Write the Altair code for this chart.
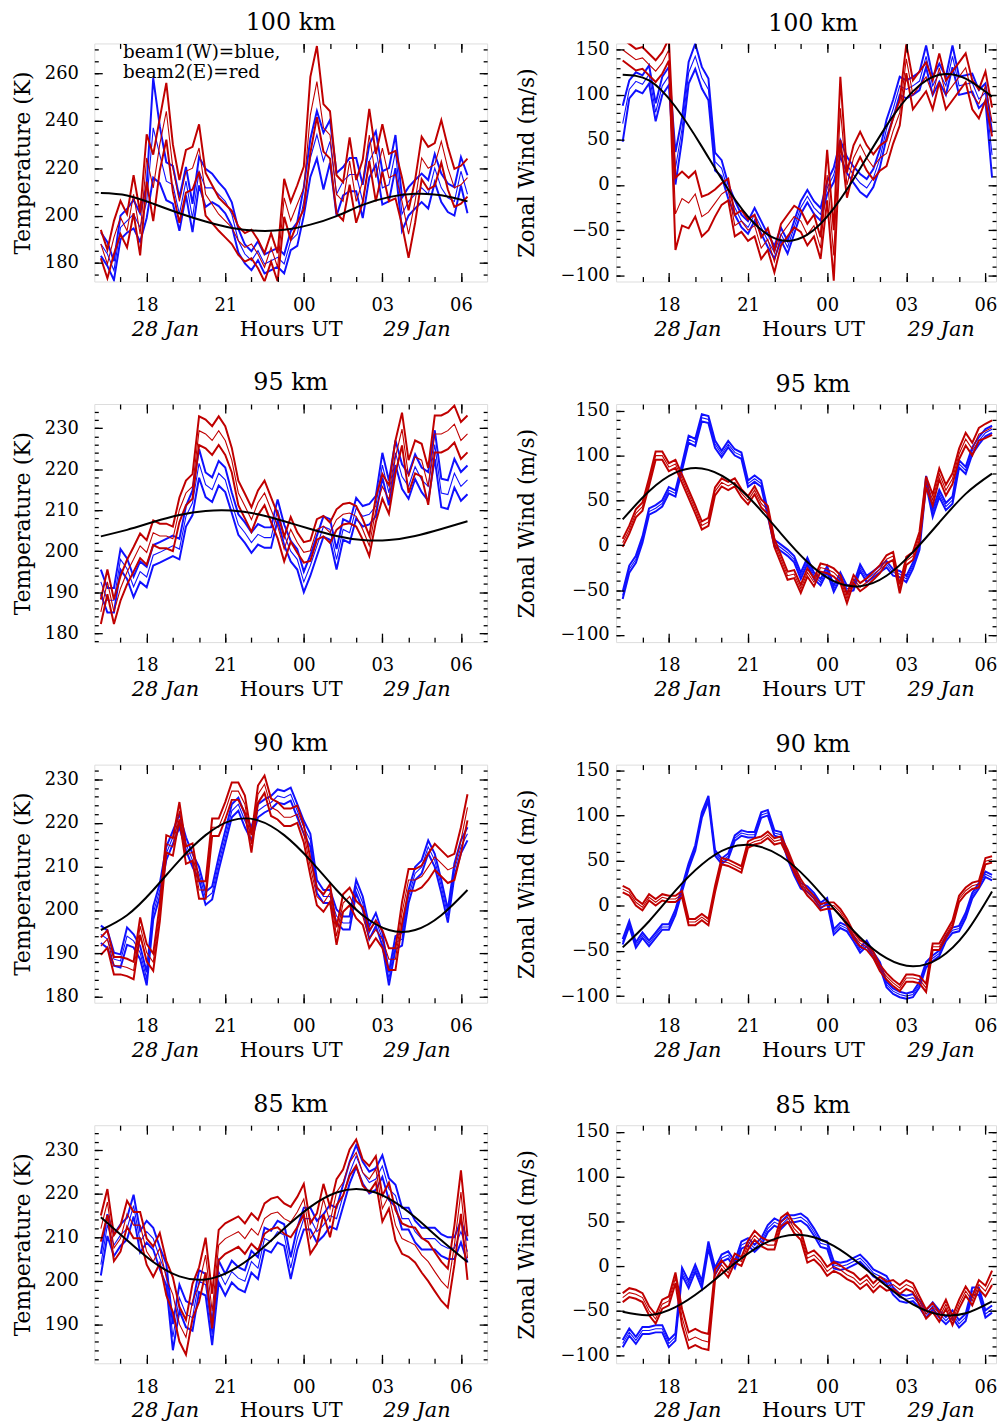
import altair as alt
import pandas as pd

FONT = "DejaVu Serif"
BLUE = "#1010FF"
RED = "#C00000"

# time grid (hours UT counted from 00 UT 28 Jan; 24 = 00 UT 29 Jan)
T_START = 16.25
T_STEP = 0.25
FIT_START = 16.25
FIT_STEP = 1.0

X_DOMAIN_LEFT = [16, 31]
X_DOMAIN_RIGHT = [16, 30.4]
X_MAJOR = [18, 21, 24, 27, 30]
X_LABELS = ["18", "21", "00", "03", "06"]
X_MINOR = list(range(17, 31))
# top-edge ticks of the first panel (the legend box hides those behind it)
X_MAJOR_TOP_LEGEND = [24, 27, 30]
X_MINOR_TOP_LEGEND = [17] + list(range(24, 31))
DATE_POS = [18.7, 28.3]
DATE_LABELS = ["28 Jan", "29 Jan"]
X_TITLE = "Hours UT"
LEGEND = ["beam1(W)=blue,", "beam2(E)=red"]
TITLES = ["100 km", "95 km", "90 km", "85 km"]
T_TITLE = "Temperature (K)"
W_TITLE = "Zonal Wind (m/s)"

# ---------------- 100 km temperature ----------------
t100_blue = [188, 183.8, 176.8, 195, 197.8, 200.6, 195, 206, 237, 225.7,
             214.5, 213, 200.6, 214.5, 199, 218.7, 211.7, 211.7, 209, 206,
             200.6, 189.4, 183.8, 181, 185.2, 179.6, 181, 182.4, 179.6, 189.4,
             192.2, 206, 224.3, 234.1, 223, 231.3, 209, 214.5, 217.3, 217.3,
             206, 223, 228.5, 211.7, 213, 227, 200.6, 206, 209, 211.7,
             209, 220, 211.7, 207.5, 206, 218.7, 209]
t100_blue_err = [5, 5, 4, 5, 5, 6, 6, 7, 21, 12,
                 8, 8, 7, 6, 6, 6, 8, 6, 5, 5,
                 5, 5, 4, 4, 4, 4, 4, 4, 4, 4,
                 5, 6, 8, 10, 12, 9, 9, 6, 7, 7,
                 7, 7, 7, 7, 7, 7, 7, 6, 6, 6,
                 6, 6, 6, 6, 6, 6, 8]
t100_red = [188, 179.6, 190.8, 199.2, 193.6, 209, 192.2, 224.3, 211.7, 230,
            244, 220, 206, 218.7, 220, 228.5, 209, 204.8, 200.6, 197.8,
            195, 189.4, 186.6, 188, 183.8, 178.2, 186.6, 178.2, 207.5, 197.8,
            204.8, 211.7, 242.5, 256.5, 237, 234, 209, 206, 223, 206,
            214.5, 234, 216, 228.5, 216, 217.3, 206, 192.2, 206, 224.3,
            220, 221.6, 231.3, 220, 211.7, 213, 216]
t100_red_err = [6, 6, 7, 7, 7, 8, 9, 10, 14, 11,
                12, 10, 9, 9, 9, 10, 9, 8, 7, 7,
                7, 6, 6, 6, 6, 6, 6, 6, 8, 8,
                8, 9, 16, 15, 10, 10, 8, 8, 10, 9,
                9, 11, 10, 10, 10, 10, 10, 10, 9, 9,
                9, 9, 9, 9, 8, 8, 8]
t100_fit = [209.5, 208.5, 205.0, 201.0, 197.5, 194.8, 193.6, 194.0, 196.2, 199.8,
            204.5, 207.8, 209.2, 208.6, 206.0]

# ---------------- 100 km zonal wind ----------------
w100_blue = [68, 106, 115, 111.7, 122.6, 80.7, 110, 121, 18.6, 62.4,
             124.5, 142.7, 119, 106, 26, 18.6, -7, -25, -39.8, -47,
             -32.5, -47, -61.7, -74.5, -54.4, -69, -47, -25, -12.4, -25,
             -32.5, -3.3, 11.3, 40.5, 22.3, 11.3, 2.2, -3.3, 7.7, 29.6,
             62.4, 84.3, 110, 106, 110, 115.3, 142.7, 110, 124.5, 110,
             142.7, 110, 111.7, 113.5, 95.3, 102.6, 33.2]
w100_blue_err = [20, 10, 10, 10, 10, 10, 10, 10, 18, 12,
                 12, 14, 12, 12, 10, 9, 8, 8, 7, 7,
                 7, 7, 7, 7, 7, 7, 7, 7, 7, 7,
                 7, 7, 8, 9, 9, 9, 10, 10, 10, 10,
                 10, 10, 10, 10, 10, 10, 12, 10, 10, 10,
                 12, 10, 10, 10, 10, 10, 25]
w100_red = [150, 144.5, 139, 140.9, 133.6, 126.3, 135.4, 150, -32, -15,
            -20, -10, -35, -30, -20, -10, -5, -45, -40, -50,
            -45, -70, -60, -85, -55, -45, -35, -40, -55, -45,
            -70, 11, -78, 85, 0, 30, 45, 30, 20, 30,
            35, 60, 80, 140, 100, 110, 120, 100, 130, 100,
            110, 120, 130, 100, 90, 110, 70]
w100_red_err = [12, 12, 12, 12, 12, 12, 12, 12, 40, 30,
                28, 25, 22, 20, 15, 12, 12, 12, 12, 12,
                12, 12, 12, 12, 12, 12, 12, 12, 12, 12,
                12, 28, 28, 35, 14, 14, 14, 14, 14, 14,
                14, 14, 14, 16, 16, 16, 16, 16, 16, 16,
                16, 16, 16, 16, 16, 16, 16]
w100_fit = [122.2, 116.0, 86.8, 42.6, -4.9, -42.9, -61.2, -55.0, -25.8, 18.4,
            65.9, 103.9, 122.2, 118.0, 98.0]

# ---------------- 95 km temperature ----------------
t95_blue = [192.5, 188, 188, 198, 195.7, 191.3, 195, 193.7, 199, 199.7,
            200.5, 201.3, 200.5, 208.5, 211.8, 221.4, 216.2, 215, 219, 217.4,
            211.8, 206.5, 204.5, 202.1, 204.1, 203.3, 203.3, 210.1, 204, 200,
            198, 192.5, 196.5, 201.3, 206, 205.3, 198, 205.3, 204.5, 210.5,
            208.5, 209, 211, 221, 214.2, 224, 218.2, 215.8, 220.6, 217.4,
            215.8, 226, 214.2, 213.8, 219, 215.8, 217.4]
t95_blue_err = [3, 3, 3, 2.5, 2.5, 2.5, 2.5, 2.5, 2.5, 2.5,
                2.5, 2.5, 2.5, 2.5, 3, 3.5, 3, 3, 3, 3,
                2.5, 2.5, 2.5, 2.5, 2.5, 2.5, 2.5, 2.5, 2.5, 2.5,
                2.5, 2.5, 2.5, 2.5, 2.5, 2.5, 2.5, 2.5, 2.5, 2.5,
                2.5, 2.5, 2.5, 3, 3, 3, 3, 3, 3, 3,
                3.5, 3.5, 3.5, 3.5, 3.5, 3.5, 3.5]
t95_red = [185.2, 192.5, 185.2, 190.9, 194.9, 198, 201.3, 199.7, 204.5, 203.7,
           203.7, 203, 210.1, 214.2, 215.8, 229.4, 228.6, 227, 229.4, 227,
           222.2, 214.2, 211, 207.7, 211.8, 214.2, 210.1, 206.1, 200.5, 205.3,
           202.1, 199.7, 200.1, 205.3, 206.1, 204.5, 207.7, 209, 209.3, 208.5,
           205.3, 201.3, 210.1, 215.8, 212.6, 223, 229.8, 218.2, 223, 222.2,
           215.8, 228.6, 228.6, 229.4, 231, 227, 228.6]
t95_red_err = [3, 3, 3, 3, 3, 3, 3, 3, 3, 3,
               3, 3, 3, 3, 3, 3.5, 3.5, 3.5, 3.5, 3.5,
               3, 3, 3, 3, 3, 3, 3, 3, 3, 3,
               2.5, 2.5, 2.5, 2.5, 2.5, 2.5, 2.5, 2.5, 2.5, 2.5,
               2.5, 2.5, 3, 3, 3.5, 4, 4, 4, 4, 4,
               4.5, 4.5, 4.5, 4.5, 4.5, 4.5, 4.5]
t95_fit = [203.6, 205.2, 207.1, 208.8, 209.8, 209.9, 209.0, 207.3, 205.4, 203.7,
           202.7, 202.7, 203.7, 205.4, 207.3]

# ---------------- 95 km zonal wind ----------------
w95_blue = [-56, -26.7, -15.7, 6.3, 37.5, 41.1, 46.6, 61.3, 57.6, 87,
            118.1, 114.4, 142, 140, 112.6, 101.6, 112.6, 103.4, 99.8, 68.6,
            74.1, 68.6, 35.6, 2.6, -2.9, -8.4, -15.7, -34, -17.5, -34,
            -41.3, -26.7, -48.7, -34, -48.7, -46.8, -24.9, -37.7, -32.2, -26.7,
            -21.2, -30.4, -32.2, -37.7, -23, -1, 72.3, 35.6, 57.6, 43,
            50.3, 90.6, 83.3, 105.3, 116.3, 125.4, 129.1]
w95_blue_err = [4, 4, 4, 3.5, 3.5, 3.5, 3.5, 3.5, 3.5, 3.5,
                4, 4, 4, 4, 4, 3.5, 3.5, 3.5, 3.5, 3.5,
                3.5, 3.5, 3.5, 3.5, 3.5, 3.5, 3.5, 3.5, 3.5, 3.5,
                3.5, 3.5, 3.5, 3.5, 3.5, 3.5, 3.5, 3.5, 3.5, 3.5,
                3.5, 3.5, 3.5, 3.5, 3.5, 4, 5, 4, 4, 4,
                4, 4, 4, 4, 4, 4, 4]
w95_red = [2.6, 17.3, 35.6, 43, 70.5, 99.8, 99.8, 87, 90.6, 74,
           57, 40, 22, 26, 60, 70, 66, 70, 58, 50,
           61.3, 46.6, 39.3, 2.6, -15.7, -34, -32.2, -48.7, -30.4, -41.3,
           -24.9, -26.7, -30.4, -37.7, -59.7, -37.7, -46.8, -41.3, -34, -26.7,
           -15.7, -12, -48.7, -17.5, -12, 10, 70.5, 50.3, 79.6, 61.3,
           74.1, 101.6, 118.1, 107.1, 123.6, 127.3, 131]
w95_red_err = [4.5, 4.5, 4.5, 4.5, 4.5, 4.5, 4.5, 4.5, 4.5, 4.5,
               4.5, 4.5, 4.5, 4.5, 4.5, 4.5, 4.5, 4.5, 4.5, 4.5,
               4.5, 4.5, 4.5, 4.5, 4.5, 4.5, 4.5, 4.5, 4.5, 4.5,
               4.5, 4.5, 4.5, 4.5, 5, 4.5, 4.5, 4.5, 4.5, 4.5,
               4.5, 4.5, 5, 4.5, 4.5, 5, 6, 6, 6, 6,
               6, 6, 7, 7, 7, 8, 8]
w95_fit = [28.7, 60.1, 80.8, 85.5, 73.0, 46.5, 13.0, -18.7, -40.1, -45.7,
           -34.1, -7.7, 25.3, 57.2, 79.7]

# ---------------- 90 km temperature ----------------
t90_blue = [194.4, 193.3, 188.7, 188.3, 194, 192.9, 190.2, 184.2, 199.3, 204.6,
            213, 216.7, 220.5, 215.2, 211.4, 208.4, 202.7, 203.9, 210.7, 216.7,
            222.8, 224.3, 220.5, 217.5, 222.8, 223.9, 224.7, 226.2, 225.8, 226.6,
            222.8, 219, 216, 205.4, 203.1, 203.1, 198.6, 197, 197, 205.4,
            201.6, 194.8, 197.8, 193.3, 184.2, 192.5, 193.3, 203.1, 208.4, 209.9,
            214.5, 211.4, 205.4, 198.6, 209.2, 214.5, 217.5]
t90_blue_err = [2, 2, 1.5, 1.5, 2, 1.5, 1.5, 1.5, 1.5, 1.5,
                1.5, 1.5, 1.5, 1.5, 1.5, 1.5, 1.5, 1.5, 1.5, 1.5,
                1.5, 1.5, 1.5, 1.5, 1.5, 1.5, 1.5, 1.5, 1.5, 1.5,
                1.5, 1.5, 1.5, 1.5, 1.5, 1.5, 1.5, 1.5, 1.5, 1.5,
                1.5, 1.5, 1.5, 1.5, 1.5, 1.5, 1.5, 1.5, 1.5, 1.5,
                1.5, 1.5, 1.5, 1.5, 1.5, 1.5, 1.5]
t90_red = [191.7, 193.3, 187.2, 187.2, 186.8, 186.1, 196.3, 190.2, 188, 199.3,
           215.2, 214.5, 222.8, 212.6, 213.3, 204.6, 204.6, 219, 219, 222.8,
           227.3, 227.3, 224.3, 215.2, 226.6, 228.9, 223.6, 222.8, 221.3, 221.3,
           222, 217.5, 209.9, 203.1, 201.6, 203.9, 194, 201.6, 203.1, 200.1,
           198.6, 193.3, 195.5, 193.3, 188.7, 188.7, 199.3, 206.9, 206.9, 207.7,
           209.9, 212.2, 210.7, 209.2, 209.9, 216, 223.6]
t90_red_err = [2, 2, 2, 2, 2, 2, 2, 2, 2, 2,
               2, 2, 2, 2, 2, 2, 2, 2, 2, 2,
               2, 2, 2, 2, 2, 2, 2, 2, 2, 2,
               2, 2, 2, 2, 2, 2, 2, 2, 2, 2,
               2, 2, 2, 2, 2.5, 2.5, 2.5, 2.5, 2.5, 2.5,
               3, 3, 3, 3, 3, 3, 3]
t90_fit = [195.4, 198.8, 204.6, 211.4, 217.2, 220.6, 220.6, 217.2, 211.4, 204.6,
           198.8, 195.4, 195.4, 198.8, 204.6]

# ---------------- 90 km zonal wind ----------------
w90_blue = [-39.8, -19.7, -43.4, -32.5, -41.6, -32.5, -23.4, -23.4, -6.9, 18.6,
            44.2, 64.2, 100.7, 119, 58.8, 49.6, 55.1, 75.2, 80.7, 78.8,
            78.8, 100.7, 103.3, 80.7, 78.8, 55.1, 36.9, 22.3, 18.6, 11.3,
            0.4, 5.8, -28.8, -21.5, -25.2, -36.1, -48.9, -41.6, -54.4, -65.3,
            -87.2, -94.5, -98.2, -100, -98.2, -87.2, -65.3, -58, -52.6, -36.1,
            -27, -25.2, -10.6, 11.3, 22.3, 35, 31.4]
w90_blue_err = [3, 3, 3, 3, 3, 3, 3, 3, 3, 3,
                3, 3, 3, 3, 3, 3, 3, 3, 3, 3,
                3, 3, 3, 3, 3, 3, 3, 3, 3, 3,
                3, 3, 3, 3, 3, 3, 3, 3, 3, 3,
                3, 3, 3, 3, 3, 3, 3, 3, 3, 3,
                3, 3, 3, 3, 3, 3, 3]
w90_red = [18.6, 15, 4, -1.5, 9.5, 4, 9.5, 7.7, 7.7, 13.1,
           -17.9, -17.9, -12.4, -17.9, 18.6, 49.6, 47.8, 44.2, 40.5, 67.9,
           71.5, 73.4, 78.8, 71.5, 73.4, 58.8, 40.5, 25.9, 15, 7.7,
           -1.5, 0.4, 0.4, -6.9, -17.9, -32.5, -41.6, -45.3, -54.4, -69,
           -78.1, -85.4, -90.9, -80, -80, -81.8, -90.9, -45.3, -45.3, -32.5,
           -19.7, 7.7, 16.8, 22.3, 24.1, 49.6, 51.5]
w90_red_err = [3.5, 3.5, 3.5, 3.5, 3.5, 3.5, 3.5, 3.5, 3.5, 3.5,
               3.5, 3.5, 3.5, 3.5, 3.5, 3.5, 3.5, 3.5, 3.5, 3.5,
               3.5, 3.5, 3.5, 3.5, 3.5, 3.5, 3.5, 3.5, 3.5, 3.5,
               3.5, 3.5, 3.5, 3.5, 3.5, 3.5, 3.5, 3.5, 3.5, 3.5,
               3.5, 3.5, 3.5, 4, 4, 4, 4.5, 3.5, 3.5, 3.5,
               3.5, 3.5, 3.5, 3.5, 3.5, 3.5, 3.5]
w90_fit = [-46, -17, 17, 46, 64, 67, 55, 30, -3, -35,
           -58, -67, -58, -30, 16]

# ---------------- 85 km temperature ----------------
t85_blue = [203.7, 212.8, 208.2, 210.5, 212, 217.3, 209, 211.3, 209.7, 205.2,
            201.4, 187, 196.1, 192.3, 191.5, 199.9, 199.1, 187.7, 202.1, 199.1,
            202.1, 200.6, 199.9, 204.4, 202.9, 209.7, 209, 211.3, 210.5, 202.9,
            209.7, 214.3, 214.3, 211.3, 212.8, 215, 214.3, 219.6, 224.9, 228.7,
            224.9, 222.6, 223.4, 226.4, 221.1, 219.6, 214.3, 214.3, 211.3, 209.7,
            209.7, 209.7, 208.2, 207.5, 207.5, 211.3, 206.7]
t85_blue_err = [2.5, 2.5, 2.5, 2.5, 2.5, 2.5, 2.5, 2.5, 2.5, 2.5,
                2.5, 3, 3, 3, 3, 2.5, 2.5, 2.5, 2.5, 2.5,
                2.5, 2.5, 2.5, 2.5, 2.5, 2.5, 2.5, 2.5, 2.5, 2.5,
                2.5, 2.5, 2.5, 2.5, 2.5, 2.5, 2.5, 2.5, 2.5, 2.5,
                2.5, 2.5, 2.5, 2.5, 2.5, 2.5, 2.5, 2.5, 2.5, 2.5,
                2.5, 2.5, 2.5, 2.5, 2.5, 2.5, 2.5]
t85_red = [212, 218.1, 207.5, 209.7, 215.4, 212.8, 212.8, 206.7, 204.4, 207.5,
           200.6, 196.8, 190, 187, 195.3, 199.1, 205.9, 193, 208.2, 209.7,
           210.5, 211.3, 209.7, 212, 210.5, 214.3, 215.4, 215.8, 214.3, 213.5,
           215.8, 218.8, 209.7, 212, 218.8, 213.5, 220.4, 222.6, 227.2, 229.5,
           224.9, 223.4, 225.7, 216.6, 219.6, 212.8, 209.7, 209, 208.2, 205.9,
           204.4, 202.1, 199.9, 198.3, 208.2, 220.4, 205.2]
t85_red_err = [3, 3, 3, 3, 3, 3, 3, 3, 3.5, 3.5,
               4, 4, 4, 4, 4, 4, 4, 4, 3.5, 3.5,
               3.5, 3.5, 3.5, 3.5, 3.5, 3.5, 3.5, 3.5, 3.5, 3.5,
               3.5, 3.5, 3.5, 3.5, 3.5, 3.5, 3, 3, 3, 3,
               3, 3, 3, 3, 3, 3.5, 3.5, 3.5, 4, 4,
               4.5, 4.5, 4.5, 4.5, 4.5, 5, 5]
t85_fit = [214.6, 209.3, 204.3, 201.0, 200.3, 202.4, 206.6, 212.0, 217.0, 220.3,
           221.0, 218.9, 214.6, 209.3, 204.3]

# ---------------- 85 km zonal wind ----------------
w85_blue = [-86.4, -73.6, -82.8, -71.8, -71.8, -69.9, -69.9, -86.4, -79.1, -5.8,
            -20.5, -2.2, -20.5, 23.5, -5.8, 8.9, 12.5, 1.5, 23.5, 27.2,
            19.9, 27.2, 41.9, 49.2, 45.5, 52.9, 52.9, 54.7, 49.2, 38.2,
            25.4, 23.5, 1.5, -0.3, 1.5, 5.2, 8.9, 1.5, -7.6, -11.3,
            -15, -27.8, -35.1, -36.9, -35.1, -42.4, -53.4, -44.3, -53.4, -60.8,
            -53.4, -64.4, -57.1, -27.8, -27.8, -53.4, -47.9]
w85_blue_err = [4, 4, 4, 4, 4, 4, 4, 4, 4, 4,
                4, 4, 4, 4, 4, 4, 4, 4, 4, 4,
                4, 4, 4, 4, 4, 4, 4, 4, 4, 4,
                4, 4, 4, 4, 4, 4, 4, 4, 4, 4,
                4, 4, 4, 4, 4, 4, 4, 4, 4, 4,
                4, 4, 4, 4, 4, 4, 4]
w85_red = [-35.1, -29.6, -31.4, -35.1, -49.8, -59, -42.4, -38.8, -13.1, -57.1,
           -82.8, -79.1, -82.8, -84.6, -9.5, 1.5, -7.6, 8.9, 5.2, 23.5,
           34.5, 27.2, 23.5, 23.5, 49.2, 54.7, 41.9, 34.5, 8.9, 12.5,
           5.2, -5.8, -0.3, -4, -9.5, -13.1, -20.5, -15, -24.1, -16.8,
           -22.3, -20.5, -26, -20.5, -24.1, -38.8, -53.4, -46.1, -57.1, -42.4,
           -60.8, -42.4, -27.8, -38.8, -20.5, -27.8, -13.1]
w85_red_err = [5, 5, 5, 5, 5, 5, 5, 5, 6, 9,
               9, 9, 9, 9, 6, 5, 5, 5, 5, 5,
               5, 5, 5, 5, 5, 5, 5, 5, 5, 5,
               5, 5, 5, 5, 5, 5, 5, 5, 5, 5,
               5, 5, 5, 5, 5, 5, 5, 5, 5, 5,
               5, 5, 5, 5, 5, 6, 8]
w85_fit = [-50.9, -54.7, -45.8, -26.7, -2.7, 19.1, 32.7, 34.0, 22.7, 2.0,
           -22.1, -42.6, -53.9, -52.6, -39.3]

# axis scales / ticks
T100_DOM = [172.2, 272.6]
T95_DOM = [177.8, 235.9]
T90_DOM = [178.7, 233.4]
T85_DOM = [181.0, 235.8]
W100_DOM = [-107, 157]
W95_DOM = [-108, 157.3]
W90_DOM = [-107.3, 156.6]
W85_DOM = [-108.4, 157.3]
T100_MAJ = [180, 200, 220, 240, 260]
T95_MAJ = [180, 190, 200, 210, 220, 230]
T90_MAJ = [180, 190, 200, 210, 220, 230]
T85_MAJ = [190, 200, 210, 220, 230]
W_MAJ = [-100, -50, 0, 50, 100, 150]
T100_MIN = list(range(175, 271, 5))
T95_MIN = list(range(178, 236, 2))
T90_MIN = list(range(180, 234, 2))
T85_MIN = list(range(182, 236, 2))
W_MIN = list(range(-100, 151, 10))

W_LEFT, W_RIGHT, H = 396, 383, 240


def label_expr(vals, labs):
    s = ""
    for v, l in zip(vals, labs):
        s += f"datum.value == {v} ? '{l}' : "
    return s + "''"


def series_df(center, err):
    rows = []
    for i, (c, e) in enumerate(zip(center, err)):
        rows.append({"t": T_START + T_STEP * i, "c": c, "e": e})
    return pd.DataFrame(rows)


def tick_axis(orient, off, vals, size):
    return alt.Axis(orient=orient, offset=off, values=vals, labels=False,
                    domain=False, grid=False, ticks=True, tickSize=size,
                    tickWidth=1.3, tickColor="black", title=None, zindex=1)


def panel(title, ytitle, blue, blue_err, red, red_err, fit, ydom, ymaj, ymin,
          wind, legend=False):
    width = W_RIGHT if wind else W_LEFT
    xdom = X_DOMAIN_RIGHT if wind else X_DOMAIN_LEFT
    shift = 7 if wind else 0
    xs = alt.Scale(domain=xdom, nice=False, zero=False)
    ys = alt.Scale(domain=ydom, nice=False, zero=False)
    layers = []
    for df, color in ((series_df(blue, blue_err), BLUE), (series_df(red, red_err), RED)):
        base = alt.Chart(df).transform_calculate(
            u="datum.c + datum.e", l="datum.c - datum.e")
        for fld, sw in (("l", 2), ("u", 2), ("c", 1.1)):
            layers.append(base.mark_line(color=color, strokeWidth=sw, clip=True).encode(
                x=alt.X("t:Q", scale=xs, axis=None),
                y=alt.Y(f"{fld}:Q", scale=ys, axis=None)))
    fdf = pd.DataFrame({"t": [FIT_START + FIT_STEP * k for k in range(len(fit))],
                        "v": fit})
    fbase = alt.Chart(fdf)
    main_x = alt.Axis(orient="bottom", values=X_MAJOR,
                      labelExpr=label_expr(X_MAJOR, X_LABELS),
                      ticks=False, tickSize=0, domain=False, grid=False,
                      labelPadding=15, labelFontSize=18, labelFont=FONT,
                      labelColor="black", labelFlush=False, labelOverlap=False,
                      title=X_TITLE, titleFont=FONT, titleFontSize=21,
                      titleFontWeight="normal", titleColor="black", titlePadding=4,
                      titleX=width / 2 + shift)
    main_y = alt.Axis(orient="left", values=ymaj, ticks=False, tickSize=0,
                      domain=False, grid=False,
                      labelPadding=(7 if wind else 16), labelFontSize=18,
                      labelFont=FONT, labelColor="black", labelFlush=False,
                      labelOverlap=False, title=ytitle, titleFont=FONT,
                      titleFontSize=22, titleFontWeight="normal",
                      titleColor="black", titlePadding=(20 if wind else 10),
                      minExtent=(58 if wind else 50), maxExtent=(58 if wind else 50))
    layers.append(fbase.mark_line(color="black", strokeWidth=2, clip=True,
                                  interpolate="natural").encode(
        x=alt.X("t:Q", scale=xs, axis=main_x),
        y=alt.Y("v:Q", scale=ys, axis=main_y)))
    date_axis = alt.Axis(orient="bottom", values=DATE_POS,
                         labelExpr=label_expr(DATE_POS, DATE_LABELS),
                         ticks=False, tickSize=0, domain=False, grid=False,
                         labelPadding=37, labelFontSize=21, labelFont=FONT,
                         labelFontStyle="italic", labelColor="black",
                         labelFlush=False, labelOverlap=False, title=None)
    layers.append(fbase.mark_line(strokeOpacity=0).encode(
        x=alt.X("t:Q", scale=xs, axis=date_axis),
        y=alt.Y("v:Q", scale=ys, axis=None)))
    top_major = X_MAJOR_TOP_LEGEND if legend else X_MAJOR
    top_minor = X_MINOR_TOP_LEGEND if legend else X_MINOR
    for xb, xt, yv, xsz, ysz in ((X_MAJOR, top_major, ymaj, 9, 8),
                                 (X_MINOR, top_minor, ymin, 5, 4)):
        layers.append(fbase.mark_line(strokeOpacity=0).encode(
            x=alt.X("t:Q", scale=xs, axis=tick_axis("top", -H, xb, xsz)),
            y=alt.Y("v:Q", scale=ys, axis=tick_axis("right", -width, yv, ysz))))
        layers.append(fbase.mark_line(strokeOpacity=0).encode(
            x=alt.X("t:Q", scale=xs, axis=tick_axis("bottom", -H, xt, xsz)),
            y=alt.Y("v:Q", scale=ys, axis=tick_axis("left", -width, yv, ysz))))
    if legend:
        ldf = pd.DataFrame({"txt": ["\n".join(LEGEND)]})
        layers.append(alt.Chart(ldf).mark_text(
            align="left", baseline="top", font=FONT, fontSize=18.5,
            lineBreak="\n", lineHeight=19.5, color="black").encode(
            x=alt.value(29), y=alt.value(0), text="txt:N"))
    return alt.layer(*layers).resolve_axis(x="independent", y="independent").properties(
        width=width, height=H,
        title=alt.TitleParams(text=title, font=FONT, fontSize=24,
                              fontWeight="normal", anchor="middle", offset=8,
                              dx=shift, dy=(3 if wind else 0), color="black"))


rows = [
    alt.hconcat(
        panel(TITLES[0], T_TITLE, t100_blue, t100_blue_err, t100_red, t100_red_err,
              t100_fit, T100_DOM, T100_MAJ, T100_MIN, False, legend=True),
        panel(TITLES[0], W_TITLE, w100_blue, w100_blue_err, w100_red, w100_red_err,
              w100_fit, W100_DOM, W_MAJ, W_MIN, True),
        spacing=26),
    alt.hconcat(
        panel(TITLES[1], T_TITLE, t95_blue, t95_blue_err, t95_red, t95_red_err,
              t95_fit, T95_DOM, T95_MAJ, T95_MIN, False),
        panel(TITLES[1], W_TITLE, w95_blue, w95_blue_err, w95_red, w95_red_err,
              w95_fit, W95_DOM, W_MAJ, W_MIN, True),
        spacing=26),
    alt.hconcat(
        panel(TITLES[2], T_TITLE, t90_blue, t90_blue_err, t90_red, t90_red_err,
              t90_fit, T90_DOM, T90_MAJ, T90_MIN, False),
        panel(TITLES[2], W_TITLE, w90_blue, w90_blue_err, w90_red, w90_red_err,
              w90_fit, W90_DOM, W_MAJ, W_MIN, True),
        spacing=26),
    alt.hconcat(
        panel(TITLES[3], T_TITLE, t85_blue, t85_blue_err, t85_red, t85_red_err,
              t85_fit, T85_DOM, T85_MAJ, T85_MIN, False),
        panel(TITLES[3], W_TITLE, w85_blue, w85_blue_err, w85_red, w85_red_err,
              w85_fit, W85_DOM, W_MAJ, W_MIN, True),
        spacing=26),
]

chart = alt.vconcat(*rows, spacing=30.5).properties(
    padding={"left": 3, "top": -4, "right": 0, "bottom": 0},
    background="white",
).configure_view(stroke="black", strokeWidth=2).configure(font=FONT)

chart.save("out.html", embed_options={"renderer": "svg", "actions": False})
